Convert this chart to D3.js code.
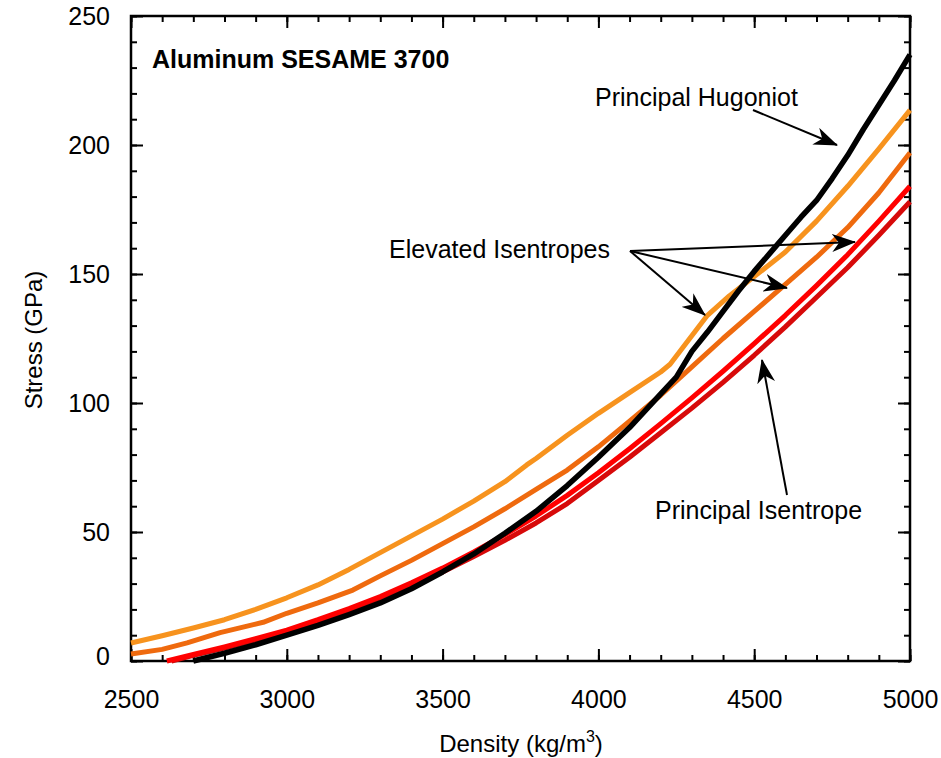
<!DOCTYPE html>
<html>
<head>
<meta charset="utf-8">
<script src="https://cdn.jsdelivr.net/npm/d3@7"></script>
<style>
  body { margin: 0; background: #fff; }
  text { font-family: "Liberation Sans", Arial, sans-serif; }
</style>
</head>
<body>
<script>
// Aluminum SESAME 3700 - stress vs density curves

// principal Hugoniot (black)
var hugRho = [2700, 2800, 2900, 3000, 3100, 3200, 3300, 3400, 3500, 3600, 3700, 3800, 3900, 4000, 4100, 4200, 4250, 4300, 4350, 4400, 4450, 4500, 4550, 4600, 4650, 4700, 4750, 4800, 4850, 4900, 4950, 5000];
var hugP   = [0, 3, 6.3, 10, 13.8, 18, 22.5, 28, 34.5, 41.5, 49.5, 58, 68, 79, 90.5, 103.5, 110, 120, 127.5, 135.5, 143.5, 151, 158, 165, 172, 178.5, 187, 196, 206, 215.5, 225, 235];

// elevated isentrope, upper (light orange)
var isenHiRho = [2500, 2600, 2700, 2800, 2900, 3000, 3100, 3200, 3300, 3400, 3500, 3600, 3700, 3770, 3800, 3900, 4000, 4100, 4200, 4230, 4350, 4420, 4500, 4600, 4700, 4800, 4900, 5000];
var isenHiP   = [7, 9.8, 12.8, 16, 20, 24.5, 29.5, 35.5, 42, 48.5, 55, 62, 69.5, 76, 78.5, 87.5, 96, 104, 112, 115, 134, 141.5, 149, 158.5, 170.5, 184, 198.5, 213.5];

// elevated isentrope, lower (dark orange)
var isenMidRho = [2500, 2600, 2680, 2786, 2924, 3000, 3100, 3212, 3300, 3400, 3500, 3600, 3700, 3800, 3900, 4000, 4100, 4200, 4300, 4400, 4500, 4600, 4700, 4800, 4900, 5000];
var isenMidP   = [2.7, 4.5, 7, 11, 15, 18.5, 22.5, 27.5, 33, 39, 45.5, 52, 59, 66.5, 74, 83, 93, 103, 114, 125, 135.5, 146, 156.5, 168, 181.5, 197];

// principal isentrope (red)
var isenRho = [2615, 2700, 2800, 2900, 3000, 3100, 3200, 3300, 3400, 3500, 3600, 3700, 3800, 3900, 4000, 4100, 4200, 4300, 4400, 4500, 4600, 4700, 4800, 4900, 5000];
var isenP   = [0, 2.5, 5.5, 8.7, 12, 16, 20.3, 25, 30.3, 36, 42.3, 49, 56.2, 64.2, 73, 82.3, 92, 102, 112.3, 123, 134, 145.5, 157.5, 170.5, 184];

// second isentrope (dark red)
var isenLoRho = [2630, 2700, 2800, 2900, 3000, 3100, 3200, 3300, 3400, 3500, 3600, 3700, 3800, 3900, 4000, 4100, 4200, 4300, 4400, 4500, 4600, 4700, 4800, 4900, 5000];
var isenLoP   = [0, 2.2, 5, 8, 11.2, 15, 19.3, 24, 29, 34.5, 40.5, 46.8, 53.5, 61, 70, 79, 88.5, 98, 108, 118.5, 129.5, 141, 152.5, 165, 178];

var xTicks = [2500, 3000, 3500, 4000, 4500, 5000];
var yTicks = [0, 50, 100, 150, 200, 250];

var w = 941, h = 758;
var pLeft = 131, pRight = 910, pTop = 16, pBottom = 661;

var svg = d3.select("body").append("svg")
    .attr("width", w)
    .attr("height", h);

var x = d3.scaleLinear().domain([2500, 5000]).range([pLeft, pRight]);
var y = d3.scaleLinear().domain([0, 250]).range([pBottom, pTop]);

var xMinor = d3.range(2500, 5001, 100);
var yMinor = d3.range(0, 251, 10);

function styleAxis(g) {
  g.select(".domain").remove();
  g.selectAll(".tick line").attr("stroke", "#000").attr("stroke-width", 2);
  g.selectAll(".tick text").attr("fill", "#000").style("font-size", "25px")
    .style("font-family", "'Liberation Sans', Arial, sans-serif");
}

// minor ticks, all four sides
svg.append("g").attr("transform", "translate(0," + pBottom + ")")
  .call(d3.axisBottom(x).tickValues(xMinor).tickSize(-6).tickFormat(""))
  .call(styleAxis);
svg.append("g").attr("transform", "translate(0," + pTop + ")")
  .call(d3.axisTop(x).tickValues(xMinor).tickSize(-6).tickFormat(""))
  .call(styleAxis);
svg.append("g").attr("transform", "translate(" + pLeft + ",0)")
  .call(d3.axisLeft(y).tickValues(yMinor).tickSize(-6).tickFormat(""))
  .call(styleAxis);
svg.append("g").attr("transform", "translate(" + pRight + ",0)")
  .call(d3.axisRight(y).tickValues(yMinor).tickSize(-6).tickFormat(""))
  .call(styleAxis);

// major ticks with labels
svg.append("g").attr("transform", "translate(0," + pBottom + ")")
  .call(d3.axisBottom(x).tickValues(xTicks).tickSize(-12).tickPadding(29).tickFormat(d3.format("d")))
  .call(styleAxis);
svg.append("g").attr("transform", "translate(0," + pTop + ")")
  .call(d3.axisTop(x).tickValues(xTicks).tickSize(-12).tickFormat(""))
  .call(styleAxis);
var yAx = svg.append("g").attr("transform", "translate(" + pLeft + ",0)")
  .call(d3.axisLeft(y).tickValues(yTicks).tickSize(-12).tickPadding(21).tickFormat(d3.format("d")))
  .call(styleAxis);
// zero label sits a bit higher, clear of the 2500 label
yAx.selectAll(".tick text").filter(function(d) { return d === 0; }).attr("y", -5);
svg.append("g").attr("transform", "translate(" + pRight + ",0)")
  .call(d3.axisRight(y).tickValues(yTicks).tickSize(-12).tickFormat(""))
  .call(styleAxis);

// frame
svg.append("rect")
  .attr("x", pLeft).attr("y", pTop)
  .attr("width", pRight - pLeft).attr("height", pBottom - pTop)
  .attr("fill", "none").attr("stroke", "#000").attr("stroke-width", 2.5);

// curves
var line = d3.line()
  .x(function(d) { return x(d[0]); })
  .y(function(d) { return y(d[1]); });

function drawCurve(rho, p, col, sw) {
  svg.append("path")
    .datum(d3.zip(rho, p))
    .attr("d", line)
    .attr("fill", "none")
    .attr("stroke", col)
    .attr("stroke-width", sw)
    .attr("stroke-linejoin", "round");
}

drawCurve(isenLoRho, isenLoP, "#d70a0a", 5);
drawCurve(isenRho, isenP, "#ff0000", 5);
drawCurve(isenMidRho, isenMidP, "#ef6a0e", 5);
drawCurve(isenHiRho, isenHiP, "#f7931e", 5);
drawCurve(hugRho, hugP, "#000000", 5.5);

// arrowhead marker
var defs = svg.append("defs");
defs.append("marker")
  .attr("id", "arr")
  .attr("viewBox", "0 0 24 18")
  .attr("refX", 23).attr("refY", 9)
  .attr("markerWidth", 24).attr("markerHeight", 18)
  .attr("markerUnits", "userSpaceOnUse")
  .attr("orient", "auto")
  .append("path")
  .attr("d", "M0,0 L24,9 L0,18 L7,9 Z")
  .attr("fill", "#000");

function arrow(x1, y1, x2, y2) {
  svg.append("line")
    .attr("x1", x1).attr("y1", y1)
    .attr("x2", x2).attr("y2", y2)
    .attr("stroke", "#000").attr("stroke-width", 2)
    .attr("marker-end", "url(#arr)");
}

arrow(753, 110, 837, 145);
arrow(630, 251, 855, 242);
arrow(630, 251, 787, 288);
arrow(630, 251, 705, 315);
arrow(787, 495, 762, 360);

// labels
svg.append("text")
  .attr("x", 152).attr("y", 68)
  .style("font-size", "25px").style("font-weight", "bold")
  .text("Aluminum SESAME 3700");

svg.append("text")
  .attr("x", 595).attr("y", 106)
  .style("font-size", "25px")
  .text("Principal Hugoniot");

svg.append("text")
  .attr("x", 389).attr("y", 258)
  .style("font-size", "25px")
  .text("Elevated Isentropes");

svg.append("text")
  .attr("x", 655).attr("y", 519)
  .style("font-size", "25px")
  .text("Principal Isentrope");

// axis titles
var xt = svg.append("text")
  .attr("x", 521).attr("y", 752)
  .attr("text-anchor", "middle")
  .style("font-size", "24px");
xt.append("tspan").text("Density (kg/m");
xt.append("tspan").attr("dy", -10).style("font-size", "16px").text("3");
xt.append("tspan").attr("dy", 10).text(")");

svg.append("text")
  .attr("transform", "translate(42,340) rotate(-90)")
  .attr("text-anchor", "middle")
  .style("font-size", "24px")
  .text("Stress (GPa)");
</script>
</body>
</html>
